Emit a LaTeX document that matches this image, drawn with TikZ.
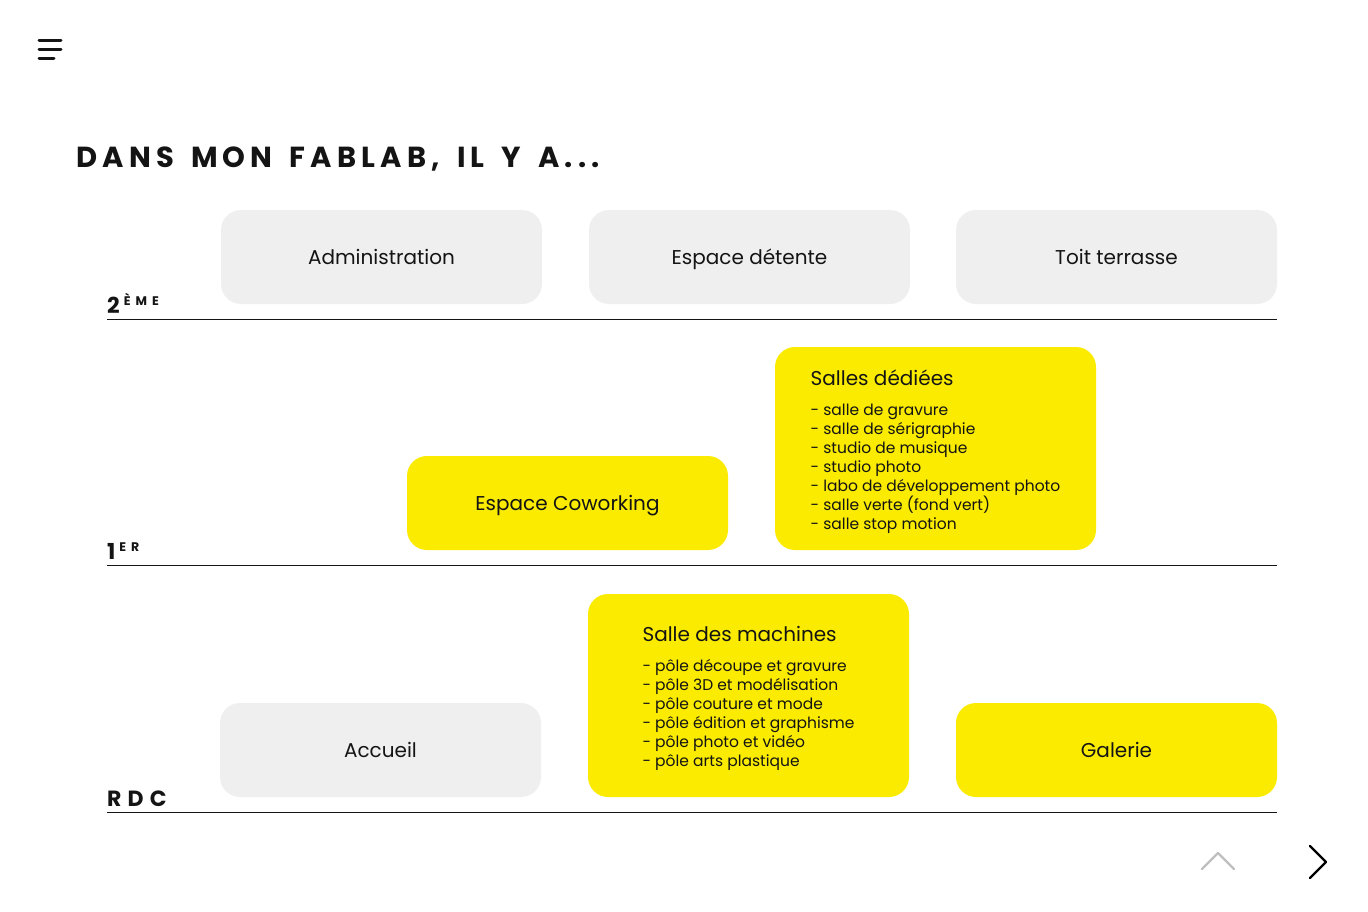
\documentclass[tikz,border=0pt]{standalone}
\usepackage{fontspec}
\setmainfont{Poppins}
\newfontfamily\spacedfont{Poppins}[LetterSpace=28]
\newfontfamily\titlefont{Poppins}[LetterSpace=18, WordSpace=1.5]
\newfontfamily\supfont{Poppins}[LetterSpace=40]
\usepackage{tikz}
\usetikzlibrary{positioning}
\definecolor{FLyellow}{RGB}{250,235,0}
\definecolor{FLgrey}{RGB}{239,239,239}
\definecolor{FLink}{RGB}{20,20,20}
\newcommand{\floorsup}[1]{\hspace{4pt}\raisebox{7.5pt}{\supfont\bfseries\fontsize{12.5}{12.5}\selectfont #1}}

\begin{document}
\begin{tikzpicture}[x=1pt, y=-1pt,
    room/.style={rounded corners=20pt, minimum width=321pt, minimum height=94pt,
      inner sep=0pt, align=left, text=FLink,
      font=\fontsize{20}{24}\selectfont},
    oneline/.style={room, text height=15pt, text depth=0pt},
    greyroom/.style={oneline, fill=FLgrey},
    yellowroom/.style={oneline, fill=FLyellow},
    bigroom/.style={room, fill=FLyellow, minimum height=203pt,
      font=\fontsize{15.5}{19}\selectfont},
    floorline/.style={line width=1pt, FLink},
    floorlabel/.style={anchor=base west, inner sep=0pt, text=FLink,
      font=\spacedfont\bfseries\fontsize{22}{22}\selectfont}]
  \useasboundingbox (0,0) rectangle (1368,912);

  % menu icon
  \draw[line width=3pt, line cap=round, FLink]
    (39,41) -- (61,41) (39,50) -- (61,50) (39,59) -- (54,59);

  % title
  \node[anchor=base west, inner sep=0pt, text=FLink,
    font=\titlefont\bfseries\fontsize{29}{29}\selectfont] (titre) at (76,168)
    {DANS MON FABLAB, IL Y A...};

  % 2eme
  \node[greyroom] (admin) at (381.5,257) {Administration};
  \node[greyroom] (detente) at (749.5,257) {Espace détente};
  \node[greyroom] (toit) at (1116.5,257) {Toit terrasse};
  \node[floorlabel] (etage2) at (107,313) {2\floorsup{ÈME}};
  \draw[floorline] (107,319) -- (1277,319);

  % 1er
  \node[yellowroom] (cowork) at (567.5,503) {Espace Coworking};
  \node[bigroom] (salles) at (935.5,448.5)
    {\rule{0pt}{22pt}{\fontsize{20}{24}\selectfont Salles dédiées}\\[11pt]
     - salle de gravure\\
     - salle de sérigraphie\\
     - studio de musique\\
     - studio photo\\
     - labo de développement photo\\
     - salle verte (fond vert)\\
     - salle stop motion};
  \node[floorlabel] (etage1) at (107,559) {1\floorsup{ER}};
  \draw[floorline] (107,565) -- (1277,565);

  % rdc
  \node[greyroom] (accueil) at (380.5,750) {Accueil};
  \node[bigroom] (machines) at (748.5,695.5)
    {\rule{0pt}{22pt}{\fontsize{20}{24}\selectfont Salle des machines}\\[11pt]
     - pôle découpe et gravure\\
     - pôle 3D et modélisation\\
     - pôle couture et mode\\
     - pôle édition et graphisme\\
     - pôle photo et vidéo\\
     - pôle arts plastique};
  \node[yellowroom] (galerie) at (1116.5,750) {Galerie};
  \node[floorlabel] (rdc) at (107,806) {RDC};
  \draw[floorline] (107,812) -- (1277,812);

  % navigation
  \draw[line width=2.4pt, line cap=round, line join=round, black!25]
    (1202,869) -- (1218,853) -- (1234,869);
  \draw[line width=2.4pt, line cap=round, line join=round, black]
    (1310,846) -- (1326,862) -- (1310,878);
\end{tikzpicture}
\end{document}
